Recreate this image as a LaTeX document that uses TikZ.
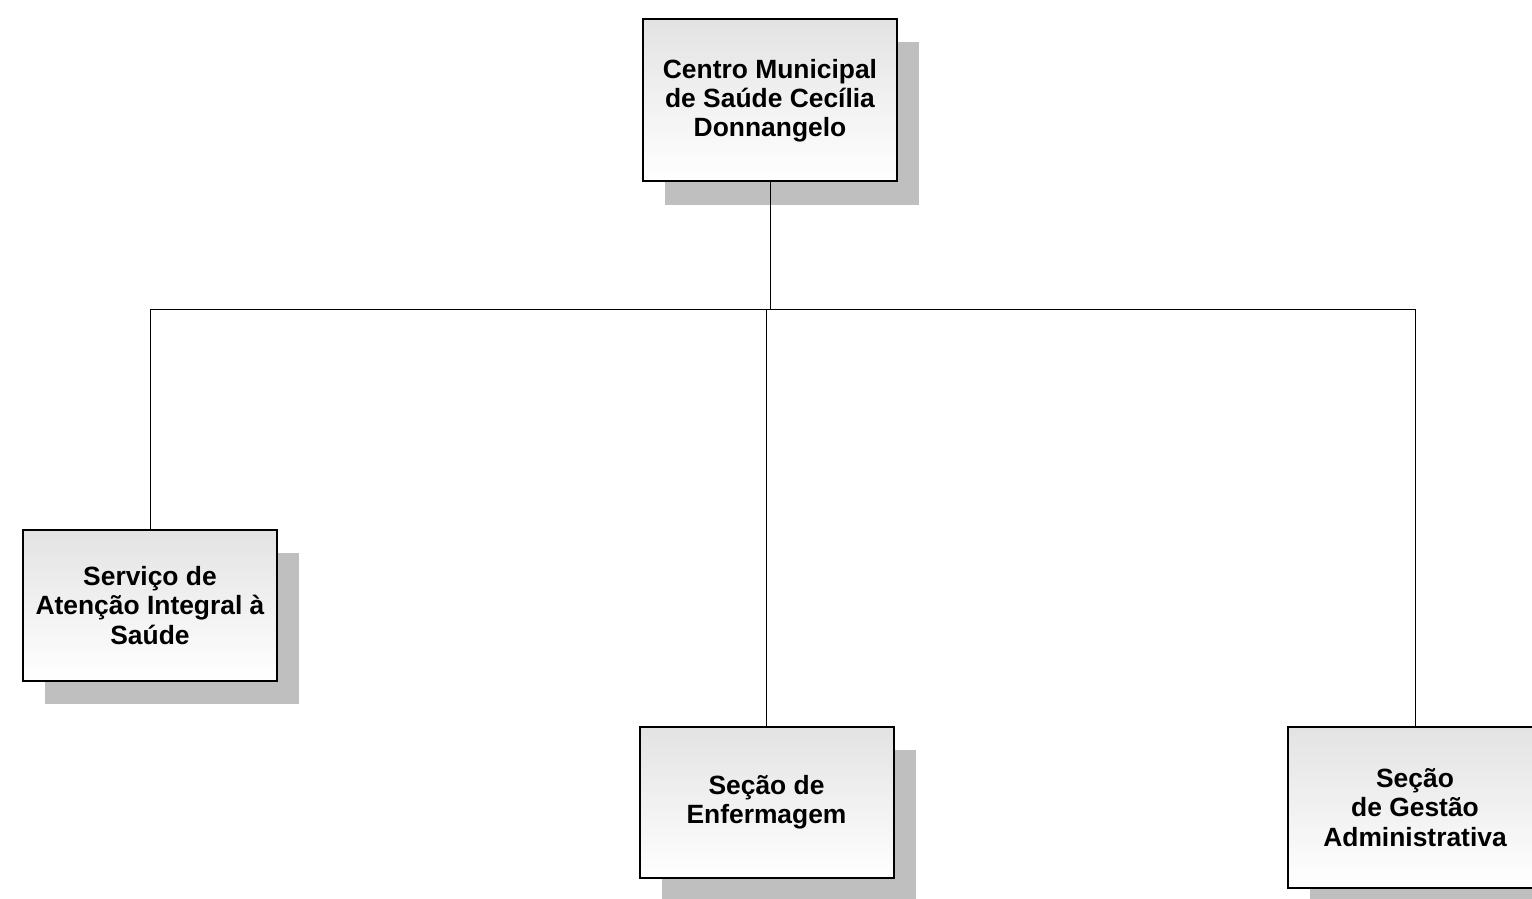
\documentclass[tikz,border=0pt]{standalone}
\usepackage{fontspec}
\setmainfont{Liberation Sans}
\usepackage{tikz}
\usetikzlibrary{shadows}

\begin{document}
\begin{tikzpicture}[
  x=0.5pt, y=-0.5pt,
  font=\bfseries\fontsize{13.2}{14.6}\selectfont,
  unit/.style={draw, line width=1pt, align=center, minimum width=127pt,
    top color=black!11, bottom color=white,
    drop shadow={shadow xshift=11pt, shadow yshift=-11.5pt, fill=black!25, opacity=1}},
  link/.style={line width=0.5pt},
]
\useasboundingbox (0,0) rectangle (1532,899);
\node[unit, minimum height=81pt] (centro) at (770,100.5) {Centro Municipal\\de Saúde Cecília\\Donnangelo};
\node[unit, minimum height=75.5pt] (saude) at (150,605.5) {Serviço de\\Atenção Integral à\\Saúde};
\node[unit, minimum height=75.5pt] (enf) at (766.5,802.5) {Seção de\\Enfermagem};
\node[unit, minimum height=80.5pt] (gestao) at (1415,807.5) {Seção\\de Gestão\\Administrativa};
\coordinate (bus) at (770,309);
\draw[link] (centro) -- (bus);
\draw[link] (bus) -| (saude.north);
\draw[link] (bus) -| (enf.north);
\draw[link] (bus) -| (gestao.north);
\end{tikzpicture}
\end{document}
